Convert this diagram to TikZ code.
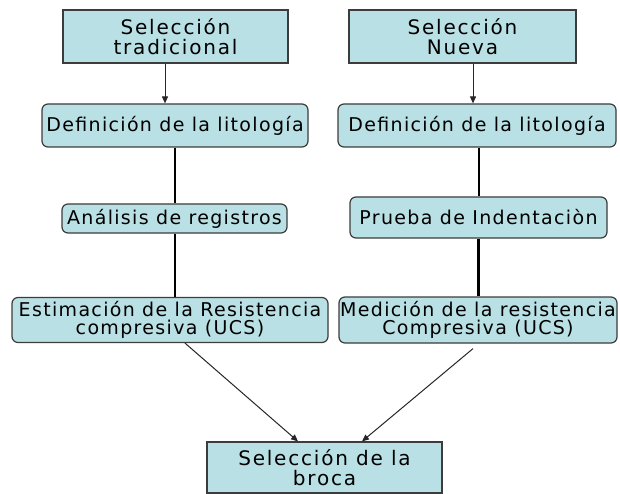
\documentclass[tikz,border=0pt]{standalone}
\usepackage{fontspec}
\setmainfont{DejaVu Sans}
\usetikzlibrary{arrows.meta}
\definecolor{boxfill}{RGB}{185,224,228}
\definecolor{boxline}{RGB}{60,60,60}
\tikzset{
 sqbox/.style={draw=boxline, line width=1.2pt, fill=boxfill, inner sep=0pt, align=center,
   font=\fontsize{20}{20}\selectfont\addfontfeature{LetterSpace=9}},
 rbox/.style={draw=boxline, line width=1.2pt, fill=boxfill, rounded corners=6pt, inner sep=0pt, align=center,
   font=\fontsize{19}{18}\selectfont\addfontfeature{LetterSpace=7}},
 bar/.style={line width=2.8pt, black},
 arr/.style={line width=1pt, draw=black!85, -{Triangle[length=7pt,width=6pt]}},
}
\begin{document}
\begin{tikzpicture}[x=1pt,y=-1pt]
\path[use as bounding box, fill=white] (0,0) rectangle (620,494);
\node[sqbox, minimum width=225pt, minimum height=53pt] (t1) at (175.5,36.5) {Selección\\tradicional};
\node[sqbox, minimum width=227pt, minimum height=53pt] (t2) at (462.5,36.5) {Selección\\Nueva};
\node[rbox, minimum width=266pt, minimum height=43pt] (d1) at (175,125.5) {Definición de la litología};
\node[rbox, minimum width=278pt, minimum height=43pt] (d2) at (477,125.5) {Definición de la litología};
\node[rbox, minimum width=225pt, minimum height=29pt] (a1) at (174.5,218.5) {Análisis de registros};
\node[rbox, minimum width=257pt, minimum height=41pt] (a2) at (478.5,217.5) {Prueba de Indentaciòn};
\node[rbox, minimum width=316pt, minimum height=45pt] (e1) at (170,320) {Estimación de la Resistencia\\compresiva (UCS)};
\node[rbox, minimum width=278pt, minimum height=46pt] (e2) at (478,320) {Medición de la resistencia\\Compresiva (UCS)};
\node[sqbox, minimum width=235pt, minimum height=51pt] (b) at (324.5,467.5) {Selección de la\\broca};
\draw[arr] ([xshift=-10.5pt]t1.south) -- ([xshift=-10pt]d1.north);
\draw[arr] ([xshift=10.5pt]t2.south) -- ([xshift=-4pt]d2.north);
\draw[bar] (d1.south) -- (d1.south |- a1.north);
\draw[bar] (d1.south |- a1.south) -- (d1.south |- e1.north);
\draw[bar] ([xshift=2pt]d2.south) -- ([xshift=2pt]d2.south |- a2.north);
\draw[bar] (a2.south) -- (a2.south |- e2.north);
\draw[arr] ([xshift=15pt]e1.south) -- ([xshift=-26.5pt]b.north);
\draw[arr] ([xshift=-5pt,yshift=-5pt]e2.south) -- ([xshift=37.5pt]b.north);
\end{tikzpicture}
\end{document}
